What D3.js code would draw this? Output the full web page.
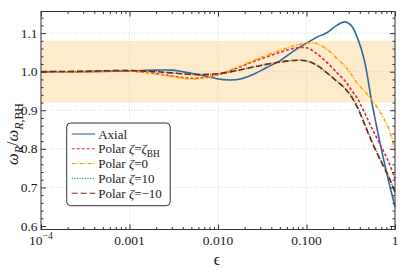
<!DOCTYPE html>
<html>
<head>
<meta charset="utf-8">
<script src="https://cdn.jsdelivr.net/npm/d3@7"></script>
<style>
  body { margin: 0; background: #fff; }
  text { font-family: "Liberation Serif", "Times New Roman", serif; fill: #1a1a1a; }
</style>
</head>
<body>
<svg id="chart"></svg>
<script>
// sampled epsilon values (x) shared by every series
var eps = [1e-4, 3e-4, 0.001, 0.002, 0.003, 0.005, 0.008, 0.012, 0.018, 0.025, 0.035, 0.05, 0.07,
           0.1, 0.13, 0.17, 0.22, 0.27, 0.32, 0.38, 0.45, 0.55, 0.7, 0.85, 1];

var axial    = [1.000, 1.000, 1.002, 1.004, 1.004, 0.996, 0.986, 0.979, 0.981, 0.993, 1.010, 1.028, 1.052,
                1.074, 1.089, 1.101, 1.120, 1.129, 1.120, 1.085, 1.030, 0.918, 0.800, 0.715, 0.650];
var polarBH  = [1.000, 1.000, 1.002, 0.995, 0.989, 0.983, 0.987, 0.998, 1.013, 1.026, 1.038, 1.050, 1.060,
                1.062, 1.047, 1.024, 0.998, 0.977, 0.953, 0.929, 0.895, 0.853, 0.805, 0.765, 0.722];
var polar0   = [1.000, 1.000, 1.002, 0.994, 0.987, 0.981, 0.986, 0.999, 1.015, 1.029, 1.042, 1.055, 1.066,
                1.074, 1.073, 1.058, 1.035, 1.015, 0.993, 0.968, 0.950, 0.927, 0.890, 0.853, 0.795];
var polar10  = [1.000, 1.001, 1.003, 1.000, 0.997, 0.993, 0.993, 0.997, 1.005, 1.012, 1.019, 1.025, 1.029,
                1.028, 1.017, 0.997, 0.976, 0.958, 0.938, 0.908, 0.868, 0.820, 0.768, 0.728, 0.688];
var polarM10 = [1.000, 1.001, 1.003, 1.000, 0.997, 0.993, 0.993, 0.997, 1.005, 1.012, 1.019, 1.025, 1.029,
                1.028, 1.017, 0.997, 0.975, 0.957, 0.936, 0.905, 0.865, 0.817, 0.766, 0.727, 0.688];

var seriesNames = ["Axial", "Polar ζ=ζ_{BH}", "Polar ζ=0", "Polar ζ=10", "Polar ζ=−10"];
var band = [0.92, 1.08];

var xTicks = [1e-4, 0.001, 0.01, 0.1, 1];
var xTickLabels = ["10^{−4}", "0.001", "0.010", "0.100", "1"];
var yTicks = [0.6, 0.7, 0.8, 0.9, 1.0, 1.1];
var yTickLabels = ["0.6", "0.7", "0.8", "0.9", "1.0", "1.1"];
var xGrid = [0.001, 0.01, 0.1];
var yGrid = [0.7, 0.8, 0.9, 1.0, 1.1];

var width = 407, height = 272;
var margin = { top: 11.5, right: 12, bottom: 42.5, left: 41 };

var svg = d3.select("#chart").attr("width", width).attr("height", height);

var x = d3.scaleLog().domain([1e-4, 1]).range([margin.left, width - margin.right]);
var y = d3.scaleLinear().domain([0.591, 1.156]).range([height - margin.bottom, margin.top]);

var x0 = x.range()[0], x1 = x.range()[1], yb = y.range()[0], yt = y.range()[1];

// rich text: greek italics, _{sub}, ^{sup}
function rich(sel, str, size) {
    var parts = str.split(/(_\{[^}]*\}|\^\{[^}]*\}|[ζω])/).filter(function(s) { return s; });
    var shift = 0;
    parts.forEach(function(p) {
        var t, target = 0, fs = size, txt = p, italic = false;
        if (p.indexOf("_{") === 0) { txt = p.slice(2, -1); target = size * 0.3; fs = size * 0.72; }
        else if (p.indexOf("^{") === 0) { txt = p.slice(2, -1); target = -size * 0.42; fs = size * 0.72; }
        else if (p === "ζ" || p === "ω") italic = true;
        var chars = (target > 0) ? txt.split(/(R)/).filter(function(s) { return s; }) : [txt];
        chars.forEach(function(c, i) {
            t = sel.append("tspan").text(c).attr("font-size", fs)
                .attr("dy", i === 0 ? target - shift : 0);
            if (italic || (target > 0 && c === "R")) t.attr("font-style", "italic");
        });
        shift = target;
    });
}

// band
svg.append("rect")
    .attr("x", x0).attr("width", x1 - x0)
    .attr("y", y(band[1])).attr("height", y(band[0]) - y(band[1]))
    .attr("fill", "#fdebcb");

// grid
svg.append("g").selectAll("line").data(xGrid).enter().append("line")
    .attr("x1", d => x(d)).attr("x2", d => x(d)).attr("y1", yt).attr("y2", yb)
    .attr("stroke", "#c8c8c8").attr("stroke-width", 0.8).attr("stroke-dasharray", "1,2");
svg.append("g").selectAll("line").data(yGrid).enter().append("line")
    .attr("x1", x0).attr("x2", x1).attr("y1", d => y(d)).attr("y2", d => y(d))
    .attr("stroke", "#c8c8c8").attr("stroke-width", 0.8).attr("stroke-dasharray", "1,2");

// curves
var series = [
    { values: axial,    color: "#2e679e", dash: null },
    { values: polarBH,  color: "#dc2a4a", dash: "3,2" },
    { values: polar0,   color: "#ffa500", dash: "4,1.5,1,1.5" },
    { values: polar10,  color: "#33b070", dash: "1.3,1.3" },
    { values: polarM10, color: "#8c1c12", dash: "6,3" }
];

var line = d3.line()
    .x(d => x(d[0]))
    .y(d => y(d[1]))
    .curve(d3.curveCatmullRom.alpha(0.5));

var plot = svg.append("g");
series.forEach(function(s) {
    plot.append("path")
        .datum(eps.map((e, i) => [e, s.values[i]]))
        .attr("d", line)
        .attr("fill", "none")
        .attr("stroke", s.color)
        .attr("stroke-width", 1.6)
        .attr("stroke-dasharray", s.dash);
});

// ticks on all four sides (inward)
var xMinor = x.ticks().filter(d => xTicks.indexOf(d) < 0);
var yMinor = y.ticks(30).filter(d => yTicks.every(t => Math.abs(t - d) > 1e-6));

function tickGroup(axis, tx, ty) {
    var g = svg.append("g").attr("transform", "translate(" + tx + "," + ty + ")").call(axis);
    g.select(".domain").remove();
    g.selectAll("line").attr("stroke", "#333");
    g.selectAll("text").remove();
}
tickGroup(d3.axisBottom(x).tickValues(xTicks).tickSize(-5), 0, yb);
tickGroup(d3.axisBottom(x).tickValues(xMinor).tickSize(-2.5), 0, yb);
tickGroup(d3.axisTop(x).tickValues(xTicks).tickSize(-5), 0, yt);
tickGroup(d3.axisTop(x).tickValues(xMinor).tickSize(-2.5), 0, yt);
tickGroup(d3.axisLeft(y).tickValues(yTicks).tickSize(-5), x0, 0);
tickGroup(d3.axisLeft(y).tickValues(yMinor).tickSize(-2.5), x0, 0);
tickGroup(d3.axisRight(y).tickValues(yTicks).tickSize(-5), x1, 0);
tickGroup(d3.axisRight(y).tickValues(yMinor).tickSize(-2.5), x1, 0);

// frame
svg.append("rect")
    .attr("x", x0).attr("y", yt).attr("width", x1 - x0).attr("height", yb - yt)
    .attr("fill", "none").attr("stroke", "#333").attr("stroke-width", 1);

// tick labels
xTicks.forEach(function(d, i) {
    var t = svg.append("text").attr("x", x(d)).attr("y", yb + 15.5)
        .attr("text-anchor", "middle").attr("font-size", 13.5);
    rich(t, xTickLabels[i], 13.5);
});
svg.append("g").selectAll("text").data(yTicks).enter().append("text")
    .attr("x", x0 - 3.5).attr("y", d => y(d) + 4.6)
    .attr("text-anchor", "end").attr("font-size", 13.5)
    .text((d, i) => yTickLabels[i]);

// axis titles
svg.append("text").attr("x", 217).attr("y", 265)
    .attr("text-anchor", "middle").attr("font-size", 16).text("ϵ");

var yl = svg.append("text")
    .attr("transform", "translate(18," + 134 + ") rotate(-90)")
    .attr("text-anchor", "middle").attr("font-size", 16.5);
rich(yl, "ω_{R}/ω_{R,BH}", 16.5);

// legend
var lg = svg.append("g").attr("transform", "translate(66.7,123)");
lg.append("rect").attr("width", 103.5).attr("height", 82.7).attr("rx", 4)
    .attr("fill", "#fff").attr("stroke", "#333").attr("stroke-width", 1);
seriesNames.forEach(function(name, i) {
    var ry = 11 + i * 14.8;
    lg.append("line").attr("x1", 5).attr("x2", 28.5).attr("y1", ry).attr("y2", ry)
        .attr("stroke", series[i].color).attr("stroke-width", 1.1)
        .attr("stroke-dasharray", series[i].dash);
    var t = lg.append("text").attr("x", 31.5).attr("y", ry + 4.5).attr("font-size", 13);
    rich(t, name, 13);
});
</script>
</body>
</html>
